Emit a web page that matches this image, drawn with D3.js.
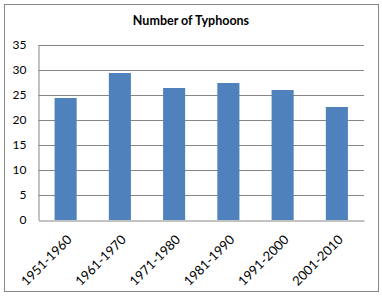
<!DOCTYPE html>
<html>
<head>
<meta charset="utf-8">
<script src="https://cdn.jsdelivr.net/npm/d3@7"></script>
<style>
html,body{margin:0;padding:0;background:#fff;}
svg{display:block;}
text{font-family:Lato,"Open Sans",sans-serif;fill:#000;}
</style>
</head>
<body>
<svg id="chart" width="382" height="296"></svg>
<script>
const categories = ["1951-1960","1961-1970","1971-1980","1981-1990","1991-2000","2001-2010"];
const values = [24.4, 29.4, 26.4, 27.4, 26.0, 22.6];
const yTicks = [0, 5, 10, 15, 20, 25, 30, 35];
const title = "Number of Typhoons";

const svg = d3.select("#chart");
const plot = {left: 38.5, right: 364, top: 45, bottom: 220};

// outer border
svg.append("rect").attr("x", 4.5).attr("y", 4.5).attr("width", 374).attr("height", 287)
  .attr("fill", "#fff").attr("stroke", "#878787").attr("stroke-width", 1);

const x = d3.scaleBand().domain(categories).range([plot.left, plot.right])
  .paddingInner(0.593).paddingOuter(0.2965);
const y = d3.scaleLinear().domain([0, 35]).range([plot.bottom, plot.top]);

// gridlines
svg.append("g").selectAll("line").data(yTicks.filter(d => d > 0)).join("line")
  .attr("x1", plot.left).attr("x2", plot.right)
  .attr("y1", d => Math.round(y(d)) + 0.5).attr("y2", d => Math.round(y(d)) + 0.5)
  .attr("stroke", "#868686").attr("stroke-width", 1);

// bars
svg.append("g").selectAll("rect").data(values).join("rect")
  .attr("x", (d, i) => x(categories[i]))
  .attr("width", x.bandwidth())
  .attr("y", d => y(d))
  .attr("height", d => y(0) - y(d))
  .attr("fill", "#4F81BD");

// y axis
const yAxis = d3.axisLeft(y).tickValues(yTicks).tickSize(0).tickPadding(12);
const gy = svg.append("g").attr("transform", `translate(${plot.left},0)`).call(yAxis);
gy.select(".domain").attr("stroke", "#868686");
gy.selectAll("text").attr("font-size", 12).attr("font-family", "Lato, 'Open Sans', sans-serif").attr("fill", "#000");

// x axis
const xAxis = d3.axisBottom(x).tickSize(0).tickPadding(0);
const gx = svg.append("g").attr("transform", `translate(0,${plot.bottom + 0.5})`).call(xAxis);
gx.select(".domain").attr("stroke", "#868686");
gx.selectAll("text")
  .attr("font-size", 13).attr("font-family", "Lato, 'Open Sans', sans-serif").attr("fill", "#000")
  .attr("text-anchor", "end")
  .attr("dy", null).attr("y", null)
  .attr("transform", "translate(7,20) rotate(-45)");

// title
svg.append("text").attr("x", 191).attr("y", 25).attr("text-anchor", "middle")
  .attr("font-size", 12.5).attr("font-weight", "bold").text(title);
</script>
</body>
</html>
